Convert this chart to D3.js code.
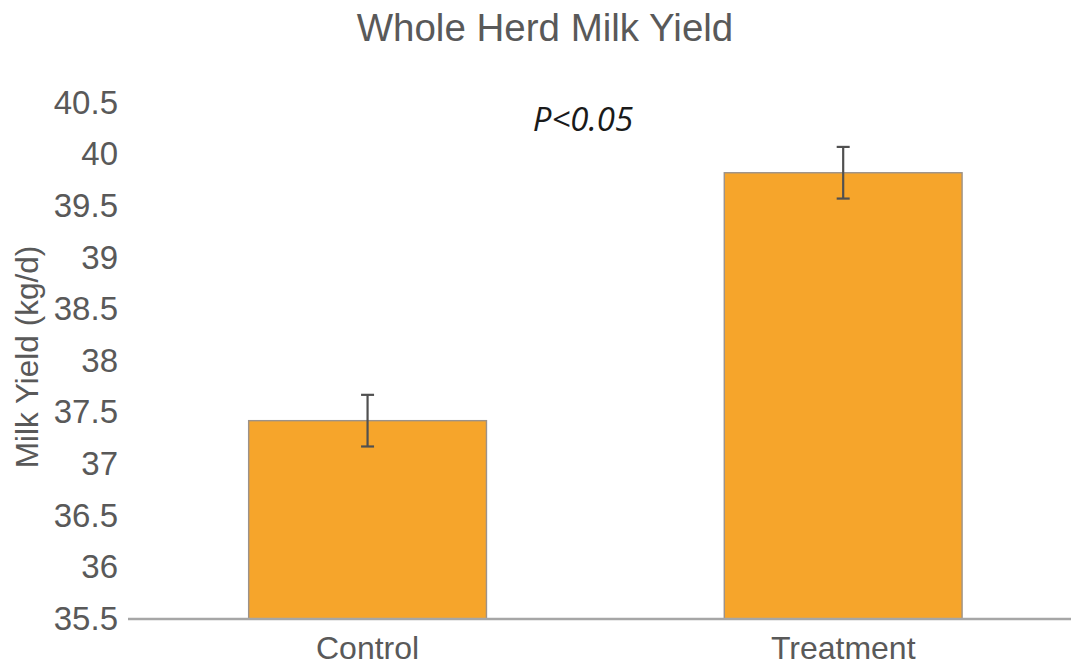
<!DOCTYPE html>
<html>
<head>
<meta charset="utf-8">
<script src="https://cdn.jsdelivr.net/npm/d3@7"></script>
<style>
  html, body { margin: 0; padding: 0; background: #fff; overflow: hidden; }
  svg { display: block; }
</style>
</head>
<body>
<svg id="chart" width="1071" height="665"></svg>
<script>
// Whole herd milk yield by group (kg/d), with standard errors
const categories = ["Control", "Treatment"];
const yieldMeans = [37.42, 39.82];
const yieldErrors = [0.25, 0.25];
const yTicks = [35.5, 36, 36.5, 37, 37.5, 38, 38.5, 39, 39.5, 40, 40.5];

const svg = d3.select("#chart");
const W = 1071, H = 665;

const x = d3.scaleBand()
  .domain(categories)
  .range([129.75, 1081])
  .paddingInner(0.5)
  .paddingOuter(0.25);

const y = d3.scaleLinear()
  .domain([35.5, 40.5])
  .range([619, 102.5]);

const textColor = "#595959";
const font = "Liberation Sans, Arial, sans-serif";

// Title
svg.append("text")
  .attr("x", 545)
  .attr("y", 41)
  .attr("text-anchor", "middle")
  .attr("font-family", font)
  .attr("font-size", 38.5)
  .attr("fill", textColor)
  .text("Whole Herd Milk Yield");

// Y axis: labels only, no line or ticks
const yAxis = svg.append("g")
  .attr("transform", "translate(118,0)")
  .call(d3.axisLeft(y).tickValues(yTicks).tickSize(0).tickPadding(0).tickFormat(d3.format("")));
yAxis.select(".domain").remove();
yAxis.selectAll("text")
  .attr("font-family", font)
  .attr("font-size", 33)
  .attr("fill", textColor);

// Y axis title
svg.append("text")
  .attr("transform", "translate(38,357) rotate(-90)")
  .attr("text-anchor", "middle")
  .attr("font-family", font)
  .attr("font-size", 31.5)
  .attr("fill", textColor)
  .text("Milk Yield (kg/d)");

// Bars
svg.append("g").selectAll("rect")
  .data(categories)
  .join("rect")
  .attr("x", d => x(d))
  .attr("y", (d, i) => y(yieldMeans[i]))
  .attr("width", x.bandwidth())
  .attr("height", (d, i) => y(35.5) - y(yieldMeans[i]))
  .attr("fill", "#F6A52B")
  .attr("stroke", "#9c928a")
  .attr("stroke-width", 1.4);

// Error bars
const err = svg.append("g")
  .attr("stroke", "#505050")
  .attr("stroke-width", 2.2)
  .selectAll("g")
  .data(categories)
  .join("g");
err.append("line")
  .attr("x1", d => x(d) + x.bandwidth() / 2)
  .attr("x2", d => x(d) + x.bandwidth() / 2)
  .attr("y1", (d, i) => y(yieldMeans[i] + yieldErrors[i]))
  .attr("y2", (d, i) => y(yieldMeans[i] - yieldErrors[i]));
[1, -1].forEach(s => {
  err.append("line")
    .attr("x1", d => x(d) + x.bandwidth() / 2 - 6.5)
    .attr("x2", d => x(d) + x.bandwidth() / 2 + 6.5)
    .attr("y1", (d, i) => y(yieldMeans[i] + s * yieldErrors[i]))
    .attr("y2", (d, i) => y(yieldMeans[i] + s * yieldErrors[i]));
});

// X axis: baseline and category labels
const xAxis = svg.append("g")
  .attr("transform", `translate(0,${y(35.5)})`)
  .call(d3.axisBottom(x).tickSize(0).tickPadding(17));
xAxis.select(".domain")
  .attr("d", `M128,0H${W}`)
  .attr("stroke", "#a6a6a6")
  .attr("stroke-width", 2.5);
xAxis.selectAll("text")
  .attr("font-family", font)
  .attr("font-size", 32)
  .attr("fill", textColor);

// Significance annotation
svg.append("text")
  .attr("x", 583)
  .attr("y", 131)
  .attr("text-anchor", "middle")
  .attr("font-family", "Open Sans, sans-serif")
  .attr("font-style", "italic")
  .attr("font-size", 33)
  .attr("fill", "#1a1a1a")
  .text("P<0.05");
</script>
</body>
</html>
